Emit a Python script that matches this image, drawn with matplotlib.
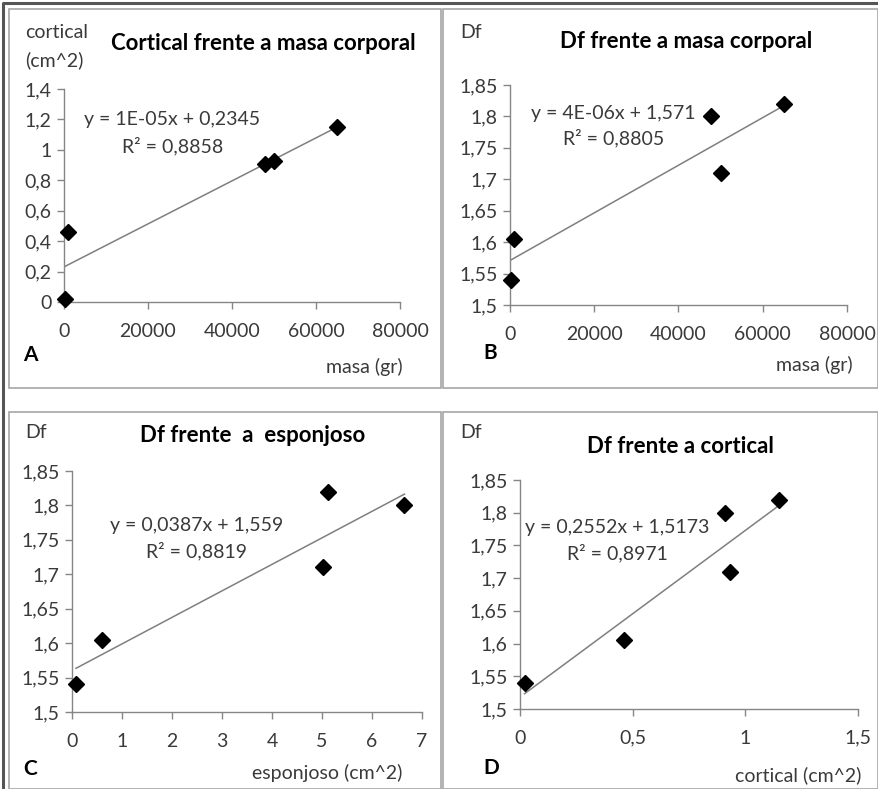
import matplotlib
matplotlib.use("Agg")

import matplotlib.pyplot as plt
import numpy as np
from matplotlib.patches import Rectangle
from matplotlib.lines import Line2D

plt.rcParams["font.family"] = ["Lato", "DejaVu Sans"]

# data
masa = [200, 900, 47800, 50000, 65000]
cortical = [0.02, 0.46, 0.91, 0.93, 1.15]
esponjoso = [0.08, 0.6, 5.03, 5.12, 6.65]
df_masa = [1.54, 1.605, 1.80, 1.71, 1.82]
df_esp = [1.54, 1.605, 1.71, 1.82, 1.80]
df_cort = [1.54, 1.605, 1.80, 1.71, 1.82]

masa_ticks = [0, 20000, 40000, 60000, 80000]
cort_ticks = [0, 0.2, 0.4, 0.6, 0.8, 1.0, 1.2, 1.4]
cort_labels = ["0", "0,2", "0,4", "0,6", "0,8", "1", "1,2", "1,4"]
df_ticks = [1.5, 1.55, 1.6, 1.65, 1.7, 1.75, 1.8, 1.85]
df_labels = ["1,5", "1,55", "1,6", "1,65", "1,7", "1,75", "1,8", "1,85"]
esp_ticks = [0, 1, 2, 3, 4, 5, 6, 7]
cx_ticks = [0, 0.5, 1.0, 1.5]
cx_labels = ["0", "0,5", "1", "1,5"]

W, H = 879, 789
TXT = "#3a3a3a"
GRID = "#868686"
FS = 14

fig = plt.figure(figsize=(W / 100, H / 100), dpi=100)


def fx(px):
    return px / W


def fy(py):
    return 1 - py / H


# outer dark border (left and top only) and panel frames
fig.lines.append(Line2D([fx(3), fx(3), 1], [0, fy(3), fy(3)], color="#555555",
                        lw=2.2, transform=fig.transFigure))
for (x0, y0, x1, y1) in [(9, 9, 441, 388), (443, 9, 878, 388),
                         (9, 412, 441, 789), (443, 412, 878, 789)]:
    fig.patches.append(Rectangle((fx(x0), fy(y1)), fx(x1 - x0), fy(y0) - fy(y1),
                                 fill=False, edgecolor="#a6a6a6", lw=1.2,
                                 transform=fig.transFigure))


def panel(box, x, y, xlim, ylim, xticks, xlabels, yticks, ylabels):
    left, top, right, bottom = box
    ax = fig.add_axes([fx(left), fy(bottom), fx(right - left), fy(top) - fy(bottom)])
    ax.set_xlim(*xlim)
    ax.set_ylim(*ylim)
    for s in ["top", "right"]:
        ax.spines[s].set_visible(False)
    for s in ["left", "bottom"]:
        ax.spines[s].set_color(GRID)
        ax.spines[s].set_linewidth(1)
    ax.set_xticks(xticks)
    ax.set_xticklabels(xlabels)
    ax.set_yticks(yticks)
    ax.set_yticklabels(ylabels)
    ax.tick_params(colors=GRID, labelcolor=TXT, labelsize=FS, length=5, width=1,
                   direction="out")
    ax.tick_params(axis="x", pad=10)
    ax.tick_params(axis="y", pad=4)
    ax.patch.set_alpha(0)
    # trend line
    k, b = np.polyfit(x, y, 1)
    xs = np.array([min(x), max(x)])
    ax.plot(xs, k * xs + b, color="#7f7f7f", lw=1.1, zorder=2)
    ax.plot(x, y, "D", color="black", ms=8, zorder=3, clip_on=False)
    return ax


# A
panel((64, 89, 400, 302), masa, cortical, (0, 80000), (0, 1.4),
      masa_ticks, [str(t) for t in masa_ticks], cort_ticks, cort_labels)
# B
panel((510, 85, 847, 305), masa, df_masa, (0, 80000), (1.5, 1.85),
      masa_ticks, [str(t) for t in masa_ticks], df_ticks, df_labels)
# C
panel((72, 471, 422, 712), esponjoso, df_esp, (0, 7), (1.5, 1.85),
      esp_ticks, [str(t) for t in esp_ticks], df_ticks, df_labels)
# D
panel((520, 480, 858, 709), cortical, df_cort, (0, 1.5), (1.5, 1.85),
      cx_ticks, cx_labels, df_ticks, df_labels)


def text(px, py, s, **kw):
    kw.setdefault("color", TXT)
    kw.setdefault("fontsize", FS)
    kw.setdefault("va", "center")
    fig.text(fx(px), fy(py), s, **kw)


# titles
TS = 16
text(263, 43, "Cortical frente a masa corporal", ha="center", color="black",
     fontsize=TS, fontweight="bold")
text(686, 42, "Df frente a masa corporal", ha="center", color="black",
     fontsize=TS, fontweight="bold")
text(253, 435, "Df frente  a  esponjoso", ha="center", color="black",
     fontsize=TS, fontweight="bold")
text(680, 447, "Df frente a cortical", ha="center", color="black",
     fontsize=TS, fontweight="bold")

# y axis titles
text(25, 32, "cortical", ha="left")
text(25, 60, "(cm^2)", ha="left")
text(460, 32, "Df", ha="left")
text(25, 433, "Df", ha="left")
text(460, 433, "Df", ha="left")

# x axis titles
text(403, 367, "masa (gr)", ha="right")
text(853, 365, "masa (gr)", ha="right")
text(402, 773, "esponjoso (cm^2)", ha="right")
text(861, 775, "cortical (cm^2)", ha="right")

# equations
text(172, 120, "y = 1E-05x + 0,2345", ha="center")
text(173, 146, "R\u00b2 = 0,8858", ha="center")
text(613, 113, "y = 4E-06x + 1,571", ha="center")
text(614, 138, "R\u00b2 = 0,8805", ha="center")
text(197, 525, "y = 0,0387x + 1,559", ha="center")
text(197, 551, "R\u00b2 = 0,8819", ha="center")
text(617, 527, "y = 0,2552x + 1,5173", ha="center")
text(617, 553, "R\u00b2 = 0,8971", ha="center")

# panel letters
for px, py, s in [(23, 355, "A"), (483, 353, "B"), (23, 769, "C"), (483, 768, "D")]:
    text(px, py, s, ha="left", color="black", fontsize=15, fontweight="bold")

fig.savefig("out.png", dpi=100)
plt.close(fig)
